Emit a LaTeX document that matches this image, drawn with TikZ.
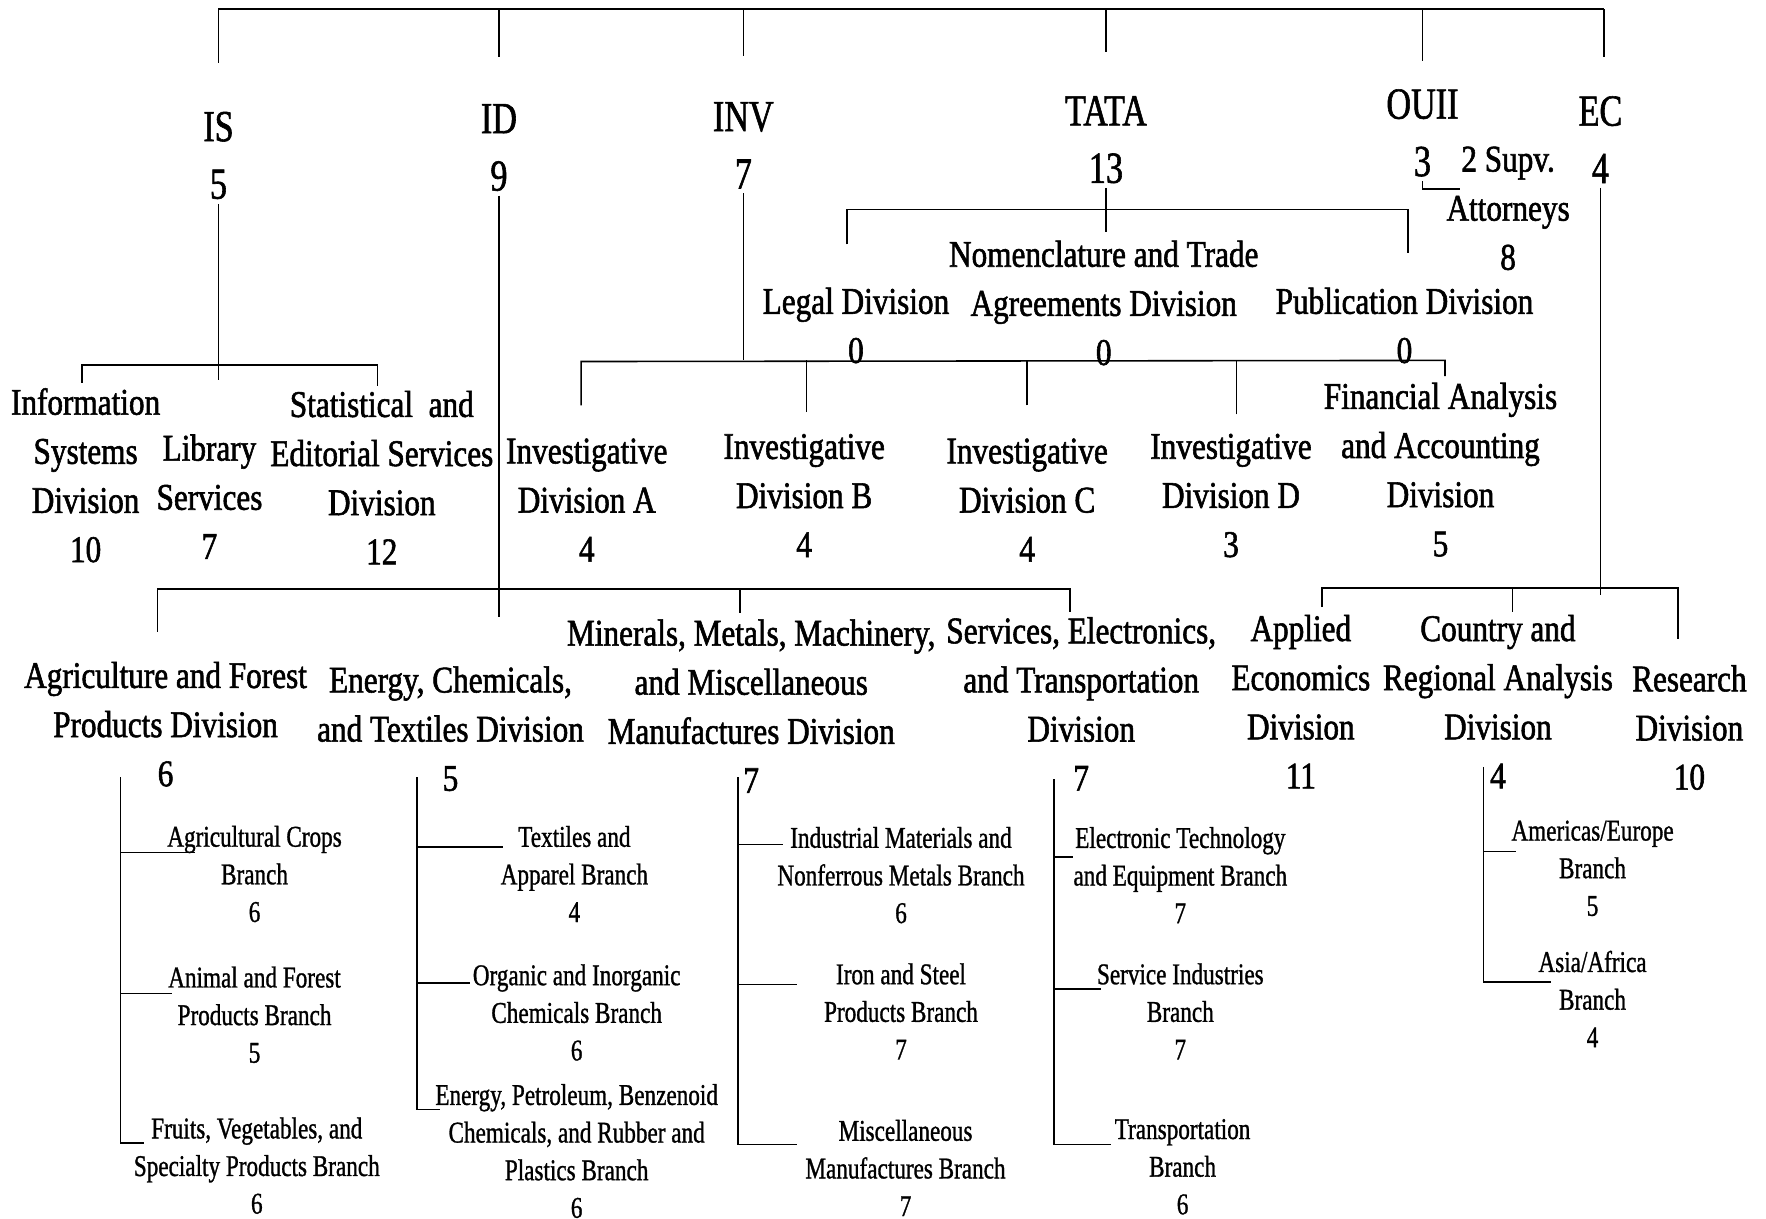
\documentclass[tikz,border=0pt]{standalone}
\usepackage{fontspec}
\setmainfont{Liberation Serif}[FakeStretch=0.77, FakeBold=1]
\newfontfamily\headfamily{Liberation Serif}[FakeStretch=0.77, FakeBold=1.3]
\newfontfamily\unitfamily{Liberation Serif}[FakeStretch=0.83, FakeBold=1.5]

\begin{document}
\begin{tikzpicture}[
    x=0.01cm, y=-0.01cm,
    head/.style={font=\headfamily\fontsize{11.2}{14.5}\selectfont, align=center, inner sep=1pt},
    unit/.style={font=\unitfamily\fontsize{9.5}{12.4}\selectfont, align=center, inner sep=1pt},
    branch/.style={font=\fontsize{7.6}{9.5}\selectfont, align=center, inner sep=1pt},
  ]
  \useasboundingbox (0,0) rectangle (1568,1082);

  % Offices
  \node[head] (is) at (194,138) {IS\\5};
  \node[head] (id) at (443,131) {ID\\9};
  \node[head] (inv) at (660,129) {INV\\7};
  \node[head] (tata) at (982,124) {TATA\\13};
  \node[head] (ouii) at (1263,118) {OUII\\3};
  \node[head] (ec) at (1421,124) {EC\\4};
  \node[unit] (supv) at (1339,185) {2 Supv.\\Attorneys\\8};

  % Divisions
  \node[unit] (info) at (76,422) {Information\\Systems\\Division\\10};
  \node[unit] (lib) at (186,441) {Library\\Services\\7};
  \node[unit] (stat) at (339,424) {Statistical\ \ and\\Editorial Services\\Division\\12};

  \node[unit] (legal) at (760,289) {Legal Division\\0};
  \node[unit] (nomen) at (980,269) {Nomenclature and Trade\\Agreements Division\\0};
  \node[unit] (pub) at (1247,289) {Publication Division\\0};

  \node[unit] (inva) at (521,444) {Investigative\\Division A\\4};
  \node[unit] (invb) at (714,440) {Investigative\\Division B\\4};
  \node[unit] (invc) at (912,444) {Investigative\\Division C\\4};
  \node[unit] (invd) at (1093,440) {Investigative\\Division D\\3};
  \node[unit] (fin) at (1279,417) {Financial Analysis\\and Accounting\\Division\\5};

  \node[unit] (agri) at (147,643) {Agriculture and Forest\\Products Division\\6};
  \node[unit] (energy) at (400,647) {Energy, Chemicals,\\and Textiles Division\\5};
  \node[unit] (minerals) at (667,627) {Minerals, Metals, Machinery,\\and Miscellaneous\\Manufactures Division\\7};
  \node[unit] (services) at (960,625) {Services, Electronics,\\and Transportation\\Division\\7};

  \node[unit] (applied) at (1155,623) {Applied\\Economics\\Division\\11};
  \node[unit] (country) at (1330,623) {Country and\\Regional Analysis\\Division\\4};
  \node[unit] (research) at (1500,646) {Research\\Division\\10};

  % Branches
  \node[branch] (agcrops) at (226,776) {Agricultural Crops\\Branch\\6};
  \node[branch] (animal) at (226,901) {Animal and Forest\\Products Branch\\5};
  \node[branch] (fruits) at (228,1035) {Fruits, Vegetables, and\\Specialty Products Branch\\6};

  \node[branch] (textiles) at (510,776) {Textiles and\\Apparel Branch\\4};
  \node[branch] (organic) at (512,899) {Organic and Inorganic\\Chemicals Branch\\6};
  \node[branch] (petro) at (512,1022) {Energy, Petroleum, Benzenoid\\Chemicals, and Rubber and\\Plastics Branch\\6};

  \node[branch] (industrial) at (800,777) {Industrial Materials and\\Nonferrous Metals Branch\\6};
  \node[branch] (iron) at (800,898) {Iron and Steel\\Products Branch\\7};
  \node[branch] (misc) at (804,1037) {Miscellaneous\\Manufactures Branch\\7};

  \node[branch] (electronic) at (1048,777) {Electronic Technology\\and Equipment Branch\\7};
  \node[branch] (serviceind) at (1048,898) {Service Industries\\Branch\\7};
  \node[branch] (transport) at (1050,1036) {Transportation\\Branch\\6};

  \node[branch] (americas) at (1414,771) {Americas/Europe\\Branch\\5};
  \node[branch] (asia) at (1414,887) {Asia/Africa\\Branch\\4};

  % Junctions
  \coordinate (top-l) at (194,8);
  \coordinate (top-r) at (1424,8);
  \coordinate (is-d) at (194,56);
  \coordinate (id-d) at (443,51);
  \coordinate (inv-d) at (660,50);
  \coordinate (tata-d) at (982,46);
  \coordinate (ouii-d) at (1263,54);
  \coordinate (ec-d) at (1424,51);

  \coordinate (is-j) at (194,337);
  \coordinate (is-l) at (73,324);
  \coordinate (is-r) at (335,324);
  \coordinate (info-in) at (73,340);
  \coordinate (stat-in) at (335,343);

  \coordinate (tata-j) at (982,206);
  \coordinate (tata-l) at (752,186);
  \coordinate (tata-r) at (1250,186);
  \coordinate (legal-in) at (752,217);
  \coordinate (pub-in) at (1250,225);
  \coordinate (supv-in) at (1296,168);

  \coordinate (inv-j) at (660,320);
  \coordinate (inv-l) at (516,321);
  \coordinate (inv-r) at (1283,320);
  \coordinate (inva-in) at (516,360);
  \coordinate (invb-in) at (716,366);
  \coordinate (invc-in) at (912,360);
  \coordinate (invd-in) at (1098,368);
  \coordinate (fin-in) at (1283,334);

  \coordinate (id-j) at (443,548);
  \coordinate (id-l) at (140,523);
  \coordinate (id-r) at (950,523);
  \coordinate (agri-in) at (140,561);
  \coordinate (minerals-in) at (657,544);
  \coordinate (services-in) at (950,543);

  \coordinate (ec-j) at (1421,528);
  \coordinate (ec-l) at (1174,522);
  \coordinate (ec-r) at (1490,522);
  \coordinate (applied-in) at (1174,539);
  \coordinate (country-in) at (1343,543);
  \coordinate (research-in) at (1490,567);

  \coordinate (agri-t) at (107,690);
  \coordinate (agcrops-in) at (173,757);
  \coordinate (animal-in) at (153,882);
  \coordinate (fruits-in) at (128,1015);
  \coordinate (energy-t) at (370,690);
  \coordinate (textiles-in) at (447,752);
  \coordinate (organic-in) at (417,873);
  \coordinate (petro-in) at (391,985);
  \coordinate (minerals-t) at (655,690);
  \coordinate (industrial-in) at (695,750);
  \coordinate (iron-in) at (708,874);
  \coordinate (misc-in) at (708,1016);
  \coordinate (services-t) at (936,692);
  \coordinate (electronic-in) at (953,761);
  \coordinate (serviceind-in) at (978,878);
  \coordinate (transport-in) at (986,1016);
  \coordinate (country-t) at (1317,681);
  \coordinate (americas-in) at (1346,756);
  \coordinate (asia-in) at (1377,872);

  % Top bar
  \draw (top-l) -- (top-r);
  \foreach \n in {is,id,inv,tata,ouii,ec}
    \draw (\n-d |- top-l) -- (\n-d);

  % IS
  \draw (is.south) -- (is-j);
  \draw (info-in) -- (is-l) -- (is-r) -- (stat-in);

  % TATA and OUII
  \draw (tata.south) -- (tata-j);
  \draw (legal-in) -- (tata-l) -- (tata-r) -- (pub-in);
  \draw (ouii.south) |- (supv-in);

  % INV
  \draw (inv.south) -- (inv-j);
  \draw (inva-in) -- (inv-l) -- (inv-r) -- (fin-in);
  \foreach \n in {invb,invc,invd}
    \draw (\n-in) -- (\n-in |- inv-r);

  % ID
  \draw (id.south) -- (id-j);
  \draw (agri-in) -- (id-l) -- (id-r) -- (services-in);
  \draw (minerals-in) -- (minerals-in |- id-l);

  % EC
  \draw (ec.south) -- (ec-j);
  \draw (applied-in) -- (ec-l) -- (ec-r) -- (research-in);
  \draw (country-in) -- (country-in |- ec-l);

  % Branch lines
  \draw (agri-t) |- (fruits-in);
  \foreach \b in {agcrops,animal}
    \draw (agri-t |- \b-in) -- (\b-in);
  \draw (energy-t) |- (petro-in);
  \foreach \b in {textiles,organic}
    \draw (energy-t |- \b-in) -- (\b-in);
  \draw (minerals-t) |- (misc-in);
  \foreach \b in {industrial,iron}
    \draw (minerals-t |- \b-in) -- (\b-in);
  \draw (services-t) |- (transport-in);
  \foreach \b in {electronic,serviceind}
    \draw (services-t |- \b-in) -- (\b-in);
  \draw (country-t) |- (asia-in);
  \draw (country-t |- americas-in) -- (americas-in);

\end{tikzpicture}
\end{document}
